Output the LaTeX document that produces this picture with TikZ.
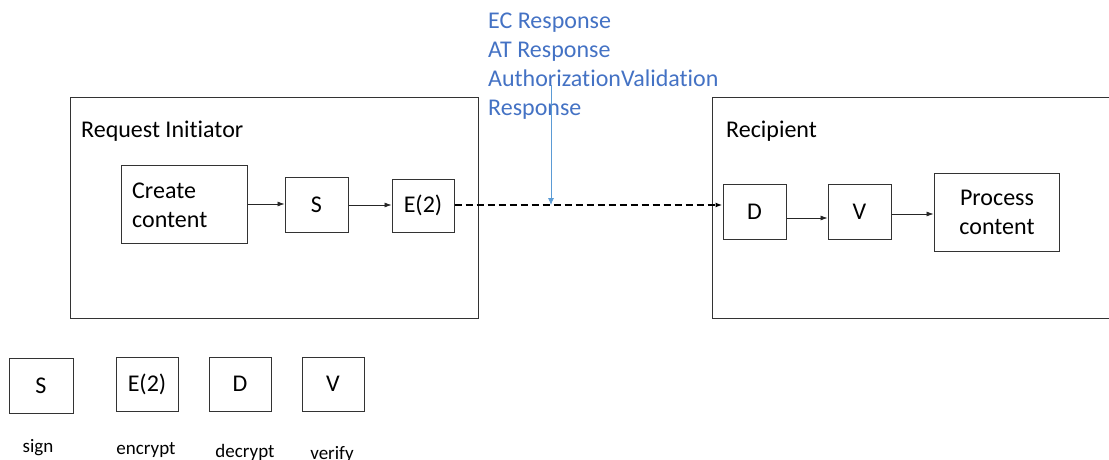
\documentclass[tikz,border=0pt]{standalone}
\usepackage{fontspec}
\setmainfont{Carlito}[Ligatures=NoCommon]
\usetikzlibrary{arrows.meta}
\definecolor{txtblue}{RGB}{68,114,196}
\definecolor{lineblue}{RGB}{91,155,213}
\begin{document}
\begin{tikzpicture}[x=1pt,y=-1pt,
  box/.style={draw=black!80,line width=1pt,inner sep=0pt},
  lbl/.style={font=\fontsize{24}{29}\selectfont,inner sep=0pt},
  legtxt/.style={font=\fontsize{19}{23}\selectfont,inner sep=0pt},
  conn/.style={-{Latex[length=7pt,width=5pt]},line width=0.6pt,black!85},
  dashconn/.style={-{Latex[length=7pt,width=5pt]},line width=1.6pt,dash pattern=on 7pt off 4pt,black},
  bluearrow/.style={-{Latex[length=7pt,width=6pt]},line width=0.8pt,lineblue,shorten >=-1pt}
]
\useasboundingbox (0,0) rectangle (1109,460);
% container boxes
\node[box,minimum width=408pt,minimum height=221pt,anchor=north west] (ri) at (70,97) {};
\node[box,minimum width=420pt,minimum height=221pt,anchor=north west] (rc) at (712,97) {};
\node[lbl,anchor=base west] (rilabel) at (81,137) {Request Initiator};
\node[lbl,anchor=base west] (rclabel) at (726,137) {Recipient};
% inner boxes
\node[box,minimum width=126pt,minimum height=78pt] (cc) at (184,204) {};
\node[lbl,anchor=base west] (cctext1) at (132,198) {Create};
\node[lbl,anchor=base west] (cctext2) at (132,227) {content};
\node[box,minimum width=63pt,minimum height=55pt,lbl,draw=black!80] (s) at (316.5,204.5) {S};
\node[box,minimum width=62pt,minimum height=53pt,lbl,draw=black!80] (e) at (423,205.5) {E(2)};
\node[box,minimum width=63pt,minimum height=55pt,lbl,draw=black!80] (d) at (754.5,211.5) {D};
\node[box,minimum width=63pt,minimum height=55pt,lbl,draw=black!80] (v) at (859.5,211.5) {V};
\node[box,minimum width=125pt,minimum height=78pt] (pc) at (996.5,212) {};
\node[lbl,anchor=base] (pctext1) at (997,205) {Process};
\node[lbl,anchor=base] (pctext2) at (997,234) {content};
% connectors
\draw[conn] (cc.east |- 0,204) -- (s.west |- 0,204);
\draw[conn] (s.east |- 0,205) -- (e.west |- 0,205);
\draw[dashconn] (e.east |- 0,205) -- (d.west |- 0,205);
\draw[conn] (d.east |- 0,218) -- (v.west |- 0,218);
\draw[conn] (v.east |- 0,214) -- (pc.west |- 0,214);
% blue annotation
\node[anchor=north west,inner sep=0pt,align=left,text=txtblue,font=\fontsize{24}{29}\selectfont] (resp) at (488,13) {EC Response\\AT Response\\AuthorizationValidation\\Response};
\coordinate (bstart) at (551,85);
\coordinate (bend) at (551,204);
\draw[bluearrow] (bstart) -- (bend);
% legend
\node[box,minimum width=64pt,minimum height=55pt,lbl] (ls) at (41,385.5) {S};
\node[box,minimum width=62pt,minimum height=54pt,lbl] (le) at (147,384) {E(2)};
\node[box,minimum width=62pt,minimum height=54pt,lbl] (ld) at (240,384) {D};
\node[box,minimum width=62pt,minimum height=54pt,lbl] (lv) at (333,384) {V};
\node[legtxt,anchor=base] (tsign) at (38,452) {sign};
\node[legtxt,anchor=base] (tenc) at (146,454) {encrypt};
\node[legtxt,anchor=base] (tdec) at (245,457) {decrypt};
\node[legtxt,anchor=base] (tver) at (332,459) {verify};
\end{tikzpicture}
\end{document}
